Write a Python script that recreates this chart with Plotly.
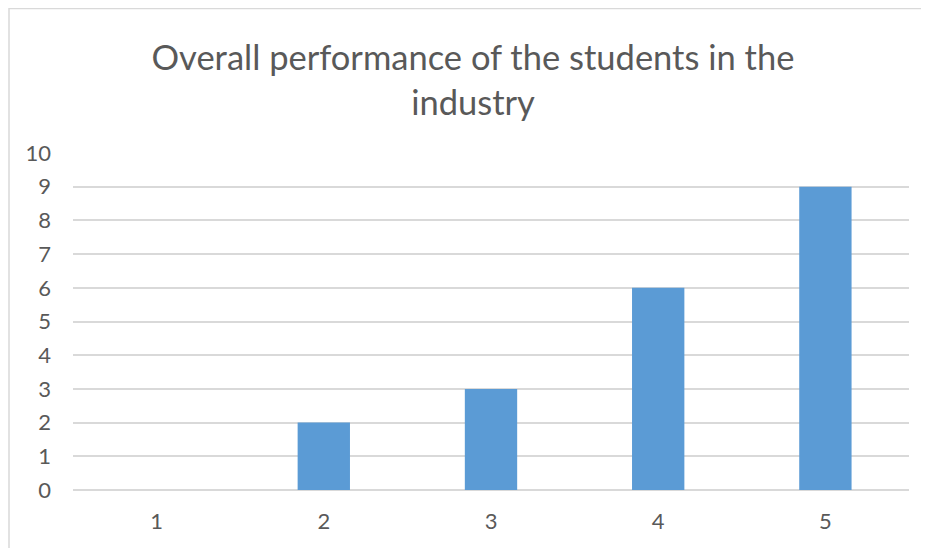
import plotly.graph_objects as go

categories = ["1", "2", "3", "4", "5"]
values = [0, 2, 3, 6, 9]
y_ticks = list(range(0, 11))

W, H = 929, 548
L, T = 65, 145
pw, ph = 836, 337
R = W - L - pw
B = H - T - ph

fig = go.Figure(go.Bar(x=categories, y=values, marker=dict(color="#5B9BD5", line=dict(width=0))))

fig.update_layout(
    width=W, height=H,
    margin=dict(l=L, r=R, t=T, b=B),
    paper_bgcolor="white", plot_bgcolor="white",
    bargap=0.687,
    showlegend=False,
    font=dict(family="Lato, Open Sans, sans-serif", color="#595959"),
    title=dict(
        text="Overall performance of the students in the<br>industry",
        x=465 / W, xref="container", xanchor="center",
        y=1 - 62 / H, yref="container", yanchor="middle",
        font=dict(size=34.5, color="#595959", family="Lato, Open Sans, sans-serif"),
    ),
    xaxis=dict(
        type="category", showgrid=False, showline=False, zeroline=False,
        ticks="", tickfont=dict(size=22, color="#595959"), ticklabelstandoff=16,
    ),
    yaxis=dict(
        range=[0, 10], tickvals=y_ticks, showgrid=True, gridcolor="#D9D9D9", gridwidth=1.5,
        zeroline=True, zerolinecolor="#D9D9D9", zerolinewidth=1.5, showline=False, ticks="",
        tickfont=dict(size=22, color="#595959"), ticklabelstandoff=21,
    ),
    shapes=[dict(
        type="rect", xref="paper", yref="paper",
        x0=(1 - L) / pw, x1=1.2, y0=-0.5, y1=(H - B - 0.5) / ph,
        line=dict(color="#D9D9D9", width=1.5), fillcolor="rgba(0,0,0,0)", layer="below",
    )],
)

fig.write_html("out.html")
